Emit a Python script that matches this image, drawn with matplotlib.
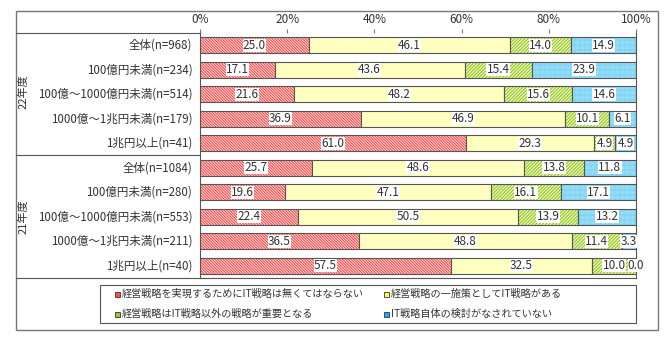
import numpy as np
import matplotlib.pyplot as plt
from matplotlib.patches import Rectangle
from matplotlib.lines import Line2D

plt.rcParams['font.family'] = ['Noto Sans CJK JP', 'DejaVu Sans']
plt.rcParams['hatch.linewidth'] = 0.9

# rows top to bottom
categories = [
    "全体(n=968)", "100億円未満(n=234)", "100億～1000億円未満(n=514)",
    "1000億～1兆円未満(n=179)", "1兆円以上(n=41)",
    "全体(n=1084)", "100億円未満(n=280)", "100億～1000億円未満(n=553)",
    "1000億～1兆円未満(n=211)", "1兆円以上(n=40)",
]
groups = ["22年度", "21年度"]

essential = [25.0, 17.1, 21.6, 36.9, 61.0, 25.7, 19.6, 22.4, 36.5, 57.5]
one_measure = [46.1, 43.6, 48.2, 46.9, 29.3, 48.6, 47.1, 50.5, 48.8, 32.5]
other_strategy = [14.0, 15.4, 15.6, 10.1, 4.9, 13.8, 16.1, 13.9, 11.4, 10.0]
not_considered = [14.9, 23.9, 14.6, 6.1, 4.9, 11.8, 17.1, 13.2, 3.3, 0.0]

series_names = [
    "経営戦略を実現するためにIT戦略は無くてはならない",
    "経営戦略の一施策としてIT戦略がある",
    "経営戦略はIT戦略以外の戦略が重要となる",
    "IT戦略自体の検討がなされていない",
]
ticks = [0, 20, 40, 60, 80, 100]
tick_labels = ["0%", "20%", "40%", "60%", "80%", "100%"]

# (face, hatch, hatch colour)
styles = [
    ("white", "\\" * 12, "#FF5050"),
    ("#FFFF50", "-" * 14, "#FFFFC0"),
    ("#F4FAD8", "/" * 10, "#99CC22"),
    ("#12B2EE", "." * 10, "white"),
]

W, H = 668, 340
fig = plt.figure(figsize=(W / 100, H / 100), dpi=100)

def fx(px):
    return px / W

def fy(py):
    return 1 - py / H

ax = fig.add_axes([fx(200), fy(278), fx(636) - fx(200), fy(33) - fy(278)])
ax.set_xlim(0, 100)
ax.set_ylim(9.5, -0.5)

y = np.arange(len(categories))
left = np.zeros(len(categories))
text_col = "#333333"
edge = "#555555"
for vals, (face, hatch, hcol) in zip(
        [essential, one_measure, other_strategy, not_considered], styles):
    vals = np.array(vals)
    ax.barh(y, vals, left=left, height=0.66, color=face, hatch=hatch,
            edgecolor=hcol, linewidth=0)
    ax.barh(y, vals, left=left, height=0.66, fill=False,
            edgecolor=edge, linewidth=0.8)
    for yi, l, v in zip(y, left, vals):
        ax.text(l + v / 2, yi, f"{v:.1f}", ha="center", va="center",
                fontsize=8.5, color=text_col,
                bbox=dict(facecolor="white", edgecolor="none", pad=0.2))
    left = left + vals

ax.xaxis.tick_top()
ax.set_xticks(ticks)
ax.set_xticklabels(tick_labels, fontsize=8.5, color=text_col)
ax.tick_params(axis="x", direction="out", length=3, width=0.8,
               color="#777777", pad=2)
ax.set_yticks([])
ax.spines["top"].set_visible(False)
for s in ["left", "right", "bottom"]:
    ax.spines[s].set_color("#555555")
    ax.spines[s].set_linewidth(0.8)

# row labels
for yi, cat in zip(y, categories):
    ax.text(-1.8, yi, cat, ha="right", va="center", fontsize=8.3,
            color=text_col)

# group labels
for gy, g in zip([92, 217], groups):
    fig.text(fx(23), fy(gy), g, rotation=90, ha="center", va="center",
             fontsize=8, color=text_col)

# frame and separators
frame = Rectangle((fx(16), fy(330)), fx(658) - fx(16), fy(11) - fy(330),
                  transform=fig.transFigure, fill=False,
                  edgecolor="#777777", linewidth=1.0)
fig.patches.append(frame)
for py in [33, 155, 278]:
    fig.lines.append(Line2D([fx(16), fx(200)], [fy(py), fy(py)],
                            transform=fig.transFigure, color="#555555",
                            linewidth=0.8))

# legend box
lbox = Rectangle((fx(100), fy(323)), fx(636) - fx(100), fy(285) - fy(323),
                 transform=fig.transFigure, fill=False,
                 edgecolor="#555555", linewidth=0.8)
fig.patches.append(lbox)
legend_pos = [(117, 294), (386, 294), (117, 314), (386, 314)]
marker_cols = ["#FF5050", "#FFFF50", "#99CC22", "#12B2EE"]
for (px, py), name, mc in zip(legend_pos, series_names, marker_cols):
    sq = Rectangle((fx(px) - fx(2.5), fy(py) - 2.5 / H), fx(5), 5 / H,
                   transform=fig.transFigure, facecolor=mc,
                   edgecolor="#333333", linewidth=0.6)
    fig.patches.append(sq)
    fig.text(fx(px + 5), fy(py), name, ha="left", va="center",
             fontsize=7.3, color=text_col)

fig.savefig("out.png", dpi=100)
